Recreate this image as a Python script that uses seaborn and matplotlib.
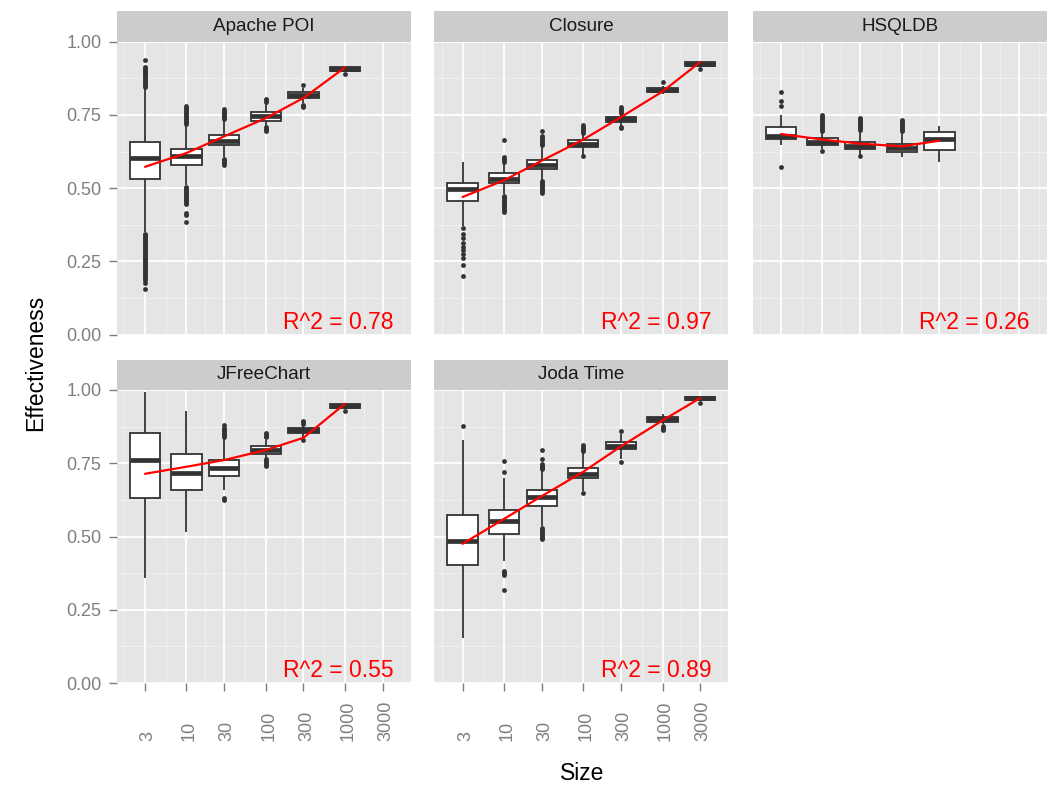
import numpy as np
import pandas as pd
import seaborn as sns
import matplotlib
matplotlib.use("Agg")
import matplotlib.pyplot as plt
import matplotlib.transforms as mtransforms
from matplotlib.ticker import FixedLocator, NullFormatter

# x axis levels (log scale) and y ticks
SIZES = [3, 10, 30, 100, 300, 1000, 3000]
SIZE_LABELS = ["3", "10", "30", "100", "300", "1000", "3000"]
Y_TICKS = [0.0, 0.25, 0.5, 0.75, 1.0]
Y_MINOR = [0.125, 0.375, 0.625, 0.875]

# Apache POI
POI_SIZES = [3, 10, 30, 100, 300, 1000]
POI_LOW = [0.350, 0.510, 0.605, 0.712, 0.790, 0.895]
POI_Q1 = [0.531, 0.578, 0.648, 0.731, 0.808, 0.900]
POI_MED = [0.603, 0.611, 0.662, 0.745, 0.818, 0.907]
POI_Q3 = [0.656, 0.635, 0.683, 0.759, 0.828, 0.912]
POI_HIGH = [0.840, 0.715, 0.730, 0.790, 0.842, 0.914]
POI_FIT = [0.573, 0.620, 0.677, 0.739, 0.808, 0.912]
POI_OUTLIERS = [
    [0.936, 0.915, 0.91, 0.905, 0.90, 0.895, 0.89, 0.885, 0.88, 0.875, 0.87, 0.865,
     0.86, 0.855, 0.85, 0.845,
     0.345, 0.34, 0.335, 0.33, 0.325, 0.32, 0.315, 0.31, 0.305, 0.30, 0.295, 0.29,
     0.285, 0.28, 0.275, 0.27, 0.265, 0.26, 0.255, 0.25, 0.245, 0.24, 0.235, 0.23,
     0.225, 0.22, 0.215, 0.21, 0.205, 0.20, 0.195, 0.185, 0.175, 0.155],
    [0.782, 0.775, 0.77, 0.765, 0.76, 0.755, 0.75, 0.745, 0.74, 0.735, 0.73, 0.725, 0.72,
     0.505, 0.50, 0.495, 0.49, 0.485, 0.48, 0.475, 0.47, 0.465, 0.46, 0.455, 0.45, 0.445,
     0.415, 0.407, 0.385],
    [0.77, 0.765, 0.76, 0.755, 0.75, 0.745, 0.74, 0.735, 0.60, 0.595, 0.59, 0.585, 0.578],
    [0.805, 0.80, 0.795, 0.708, 0.703, 0.698, 0.694],
    [0.851, 0.785, 0.78, 0.777],
    [0.891],
]

# Closure
CLO_SIZES = [3, 10, 30, 100, 300, 1000, 3000]
CLO_LOW = [0.370, 0.480, 0.529, 0.615, 0.712, 0.820, 0.912]
CLO_Q1 = [0.457, 0.518, 0.565, 0.639, 0.727, 0.828, 0.918]
CLO_MED = [0.497, 0.532, 0.580, 0.651, 0.735, 0.835, 0.925]
CLO_Q3 = [0.518, 0.552, 0.597, 0.663, 0.743, 0.842, 0.931]
CLO_HIGH = [0.589, 0.585, 0.642, 0.685, 0.755, 0.850, 0.935]
CLO_FIT = [0.470, 0.527, 0.594, 0.666, 0.743, 0.830, 0.931]
CLO_OUTLIERS = [
    [0.364, 0.344, 0.330, 0.313, 0.301, 0.290, 0.276, 0.262, 0.238, 0.202],
    [0.666, 0.605, 0.60, 0.595, 0.59, 0.475, 0.47, 0.465, 0.46, 0.455, 0.45, 0.445,
     0.44, 0.435, 0.43, 0.425, 0.42],
    [0.695, 0.677, 0.672, 0.667, 0.662, 0.657, 0.652, 0.647, 0.525, 0.52, 0.515, 0.51,
     0.505, 0.50, 0.495, 0.49, 0.484],
    [0.717, 0.71, 0.705, 0.70, 0.695, 0.69, 0.609],
    [0.776, 0.772, 0.768, 0.763, 0.758, 0.708, 0.704],
    [0.861],
    [0.907],
]

# HSQLDB
HSQ_SIZES = [3, 10, 30, 100, 300]
HSQ_LOW = [0.648, 0.635, 0.615, 0.605, 0.588]
HSQ_Q1 = [0.669, 0.648, 0.634, 0.625, 0.629]
HSQ_MED = [0.677, 0.657, 0.645, 0.636, 0.669]
HSQ_Q3 = [0.708, 0.671, 0.656, 0.652, 0.692]
HSQ_HIGH = [0.749, 0.690, 0.695, 0.690, 0.713]
HSQ_FIT = [0.685, 0.666, 0.652, 0.643, 0.662]
HSQ_OUTLIERS = [
    [0.830, 0.796, 0.782, 0.572],
    [0.75, 0.745, 0.74, 0.735, 0.73, 0.725, 0.72, 0.715, 0.71, 0.705, 0.70, 0.695, 0.628],
    [0.74, 0.735, 0.73, 0.725, 0.72, 0.715, 0.71, 0.705, 0.70, 0.609],
    [0.733, 0.728, 0.723, 0.718, 0.713, 0.708, 0.703, 0.698, 0.694],
    [],
]

# JFreeChart
JFC_SIZES = [3, 10, 30, 100, 300, 1000]
JFC_LOW = [0.359, 0.515, 0.660, 0.767, 0.840, 0.935]
JFC_Q1 = [0.632, 0.658, 0.708, 0.783, 0.854, 0.939]
JFC_MED = [0.761, 0.717, 0.734, 0.795, 0.862, 0.946]
JFC_Q3 = [0.854, 0.783, 0.761, 0.808, 0.871, 0.953]
JFC_HIGH = [0.994, 0.930, 0.833, 0.830, 0.880, 0.955]
JFC_FIT = [0.714, 0.738, 0.761, 0.795, 0.837, 0.953]
JFC_OUTLIERS = [
    [],
    [],
    [0.882, 0.870, 0.865, 0.86, 0.855, 0.85, 0.845, 0.840, 0.631, 0.624],
    [0.854, 0.849, 0.844, 0.839, 0.763, 0.758, 0.753, 0.748, 0.743, 0.74],
    [0.894, 0.89, 0.885, 0.831],
    [0.928],
]

# Joda Time
JOD_SIZES = [3, 10, 30, 100, 300, 1000, 3000]
JOD_LOW = [0.154, 0.418, 0.535, 0.655, 0.765, 0.883, 0.961]
JOD_Q1 = [0.402, 0.509, 0.604, 0.698, 0.797, 0.890, 0.965]
JOD_MED = [0.484, 0.552, 0.635, 0.715, 0.810, 0.900, 0.971]
JOD_Q3 = [0.575, 0.592, 0.657, 0.734, 0.823, 0.909, 0.977]
JOD_HIGH = [0.831, 0.700, 0.725, 0.785, 0.850, 0.919, 0.980]
JOD_FIT = [0.475, 0.560, 0.638, 0.721, 0.808, 0.896, 0.973]
JOD_OUTLIERS = [
    [0.877],
    [0.757, 0.720, 0.382, 0.378, 0.374, 0.370, 0.319],
    [0.794, 0.765, 0.746, 0.741, 0.737, 0.733, 0.729, 0.530, 0.525, 0.52, 0.515, 0.51,
     0.505, 0.50, 0.495, 0.49],
    [0.811, 0.805, 0.80, 0.795, 0.791, 0.649],
    [0.860, 0.754],
    [0.877, 0.872, 0.867, 0.862],
    [0.957],
]

PANELS = [
    ("Apache POI", POI_SIZES, POI_LOW, POI_Q1, POI_MED, POI_Q3, POI_HIGH, POI_OUTLIERS, POI_FIT, "R^2 = 0.78"),
    ("Closure", CLO_SIZES, CLO_LOW, CLO_Q1, CLO_MED, CLO_Q3, CLO_HIGH, CLO_OUTLIERS, CLO_FIT, "R^2 = 0.97"),
    ("HSQLDB", HSQ_SIZES, HSQ_LOW, HSQ_Q1, HSQ_MED, HSQ_Q3, HSQ_HIGH, HSQ_OUTLIERS, HSQ_FIT, "R^2 = 0.26"),
    ("JFreeChart", JFC_SIZES, JFC_LOW, JFC_Q1, JFC_MED, JFC_Q3, JFC_HIGH, JFC_OUTLIERS, JFC_FIT, "R^2 = 0.55"),
    ("Joda Time", JOD_SIZES, JOD_LOW, JOD_Q1, JOD_MED, JOD_Q3, JOD_HIGH, JOD_OUTLIERS, JOD_FIT, "R^2 = 0.89"),
]

# Layout in pixels (figure is 1062 x 798)
W, H = 1062, 798
COL_X = [116.7, 434.3, 752.7]
ROW_TOP = [41.7, 390.0]
PANEL_W, PANEL_H, STRIP_H = 294.0, 293.0, 30.5
DARK = "#333333"
TICK = "#7F7F7F"


def box_frame(sizes, low, q1, med, q3, high):
    """Five values per box; with whis=(0, 100) they give back the read quartiles and whisker ends."""
    rows = [(s, v) for s, *vals in zip(sizes, low, q1, med, q3, high) for v in vals]
    return pd.DataFrame(rows, columns=["Size", "Effectiveness"])


def outlier_frame(sizes, outliers):
    rows = [(s, v) for s, pts in zip(sizes, outliers) for v in pts]
    return pd.DataFrame(rows, columns=["Size", "Effectiveness"])


def minor_breaks(breaks):
    # ggplot-style minor breaks: midpoints in log space, extended one step each side
    lb = np.log10(breaks)
    step = lb[1] - lb[0]
    ext = np.r_[lb[0] - step, lb, lb[-1] + step]
    return list(10 ** ((ext[:-1] + ext[1:]) / 2))


sns.set_theme(style="darkgrid", rc={"axes.facecolor": "#E5E5E5", "grid.color": "white"})
plt.rcParams["font.family"] = ["Liberation Sans", "DejaVu Sans"]

fig = plt.figure(figsize=(W / 100, H / 100), dpi=100)
fig.patch.set_facecolor("white")

for i, (name, sizes, low, q1, med, q3, high, outliers, fit, r2) in enumerate(PANELS):
    row, col = divmod(i, 3)
    x0, top = COL_X[col], ROW_TOP[row]
    ax = fig.add_axes([x0 / W, (H - top - PANEL_H) / H, PANEL_W / W, PANEL_H / H])

    sns.boxplot(
        data=box_frame(sizes, low, q1, med, q3, high), x="Size", y="Effectiveness",
        orient="x", native_scale=True, log_scale=(True, False), whis=(0, 100),
        width=0.8, color="white", linecolor=DARK, linewidth=1.3, fliersize=0,
        showcaps=False, medianprops={"linewidth": 3.4}, ax=ax,
    )
    sns.scatterplot(
        data=outlier_frame(sizes, outliers), x="Size", y="Effectiveness",
        color=DARK, s=12, linewidth=0, legend=False, ax=ax, zorder=3,
    )
    sns.lineplot(x=sizes, y=fit, color="red", linewidth=1.6, ax=ax, zorder=5)

    ax.set_xlim(10 ** 0.12, 10 ** 3.83)
    ax.set_ylim(0, 1)
    ax.xaxis.set_major_locator(FixedLocator(SIZES))
    ax.xaxis.set_minor_locator(FixedLocator(minor_breaks(SIZES)))
    ax.xaxis.set_minor_formatter(NullFormatter())
    ax.yaxis.set_major_locator(FixedLocator(Y_TICKS))
    ax.yaxis.set_minor_locator(FixedLocator(Y_MINOR))
    ax.grid(True, which="major", color="white", linewidth=1.3)
    ax.grid(True, which="minor", color="#F2F2F2", linewidth=0.6)
    ax.set_axisbelow(True)
    ax.tick_params(which="minor", length=0)
    ax.set_xlabel("")
    ax.set_ylabel("")
    for sp in ax.spines.values():
        sp.set_visible(False)

    if col == 0:
        ax.set_yticklabels([f"{t:.2f}" for t in Y_TICKS])
        ax.tick_params(axis="y", which="major", length=6, width=1, color=TICK,
                       labelcolor=TICK, labelsize=13, pad=5, left=True)
    else:
        ax.tick_params(axis="y", which="major", length=0, labelleft=False)

    if row == 1:
        ax.set_xticklabels(SIZE_LABELS, rotation=90, va="bottom", ha="center")
        ax.tick_params(axis="x", which="major", length=6, width=1, color=TICK,
                       labelcolor=TICK, labelsize=13, pad=36, bottom=True)
        # nudge rotated labels a little to the right, as in the original
        shift = mtransforms.ScaledTranslation(3 / 100, 0, fig.dpi_scale_trans)
        for lbl in ax.get_xticklabels():
            lbl.set_transform(lbl.get_transform() + shift)
    else:
        ax.tick_params(axis="x", which="major", length=0, labelbottom=False)

    ax.text(0.942, 0.02, r2, transform=ax.transAxes, ha="right", va="baseline",
            color="red", fontsize=16.5)

    # facet strip
    sax = fig.add_axes([x0 / W, (H - top) / H, PANEL_W / W, STRIP_H / H])
    sax.set_facecolor("#CCCCCC")
    sax.grid(False)
    sax.set_xticks([])
    sax.set_yticks([])
    for sp in sax.spines.values():
        sp.set_visible(False)
    sax.text(0.5, 0.5, name, ha="center", va="center", fontsize=13.6, color="#1A1A1A",
             transform=sax.transAxes)

fig.text(581.7 / W, (H - 773) / H, "Size", ha="center", va="center", fontsize=16.5, color="black")
fig.text(36 / W, (H - 362.5) / H, "Effectiveness", ha="center", va="center",
         rotation=90, fontsize=16.5, color="black")

fig.savefig("out.png", dpi=100)
